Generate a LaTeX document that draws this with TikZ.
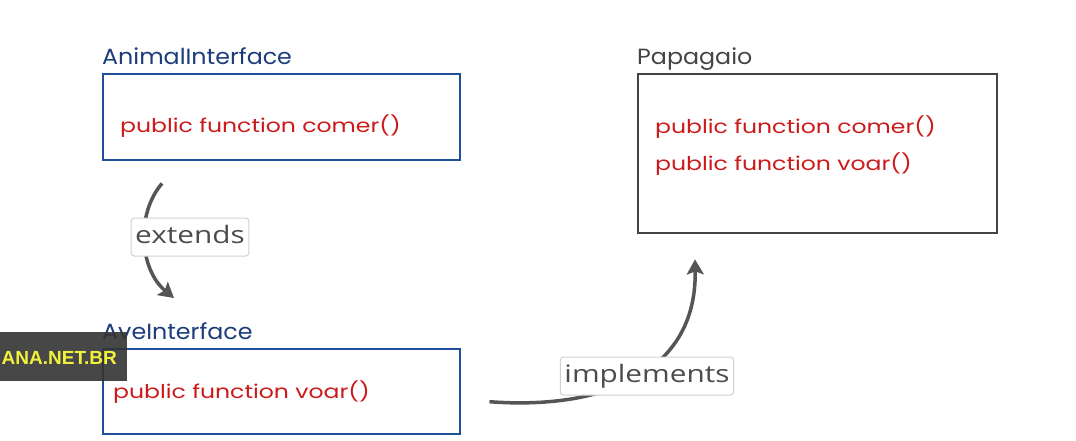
\documentclass[tikz,border=0pt]{standalone}
\usepackage{fontspec}
\newfontfamily\sketchfont[FakeStretch=1.24]{Poppins}
\newfontfamily\headfont[FakeStretch=1.08]{Poppins}
\newfontfamily\tagfont[FakeStretch=1.24]{Open Sans}
\newfontfamily\markfont{Liberation Sans}
\usetikzlibrary{
  arrows.meta,
  positioning,
  calc
}
\definecolor{ifaceblue}{HTML}{1F4E9A}
\definecolor{titleblue}{HTML}{1C3C7C}
\definecolor{methodred}{HTML}{CC1A1A}
\definecolor{boxgray}{HTML}{444444}
\definecolor{arrowgray}{HTML}{555555}
\definecolor{markyellow}{HTML}{F2F23C}

\begin{document}
\begin{tikzpicture}[x=1pt,y=-1pt,
      classbox/.style={
         rectangle,
         line width=2.4pt,
         minimum width=357pt,
         inner sep=0pt
      },
      iface/.style={classbox,draw=ifaceblue},
      concrete/.style={classbox,draw=boxgray},
      title/.style={
         inner sep=0pt,
         font=\headfont\fontsize{22}{26}\selectfont
      },
      method/.style={
         inner sep=0pt,
         text=methodred,
         font=\sketchfont\fontsize{19}{23}\selectfont
      },
      relation/.style={
         rectangle,
         rounded corners=3pt,
         line width=1pt,
         draw=black!18,
         fill=white,
         text=black!70,
         text height=17pt,text depth=4pt,
         inner xsep=4pt,inner ysep=8.5pt,
         font=\tagfont\fontsize{24}{28}\selectfont
      },
      tip/.style={-{Stealth[length=15pt,width=17pt,inset=3pt]},line width=3.5pt,draw=arrowgray}
    ]
  \useasboundingbox (0,0) rectangle (1076,441);
  % class boxes
  \node (animal) [iface, minimum height=86pt, anchor=north west] at (102,73) {};
  \node (ave) [iface, minimum height=85pt, anchor=north west] at (102,348) {};
  \node (papagaio) [concrete, minimum width=359pt, minimum height=159pt, anchor=north west] at (637,73) {};
  % titles
  \node (animaltitle) [title, text=titleblue, above right=8pt and 0pt of animal.north west, anchor=base west] {AnimalInterface};
  \node (avetitle) [title, text=titleblue, above right=9pt and 0pt of ave.north west, anchor=base west] {AveInterface};
  \node (papagaiotitle) [title, text=boxgray, above right=8pt and 0pt of papagaio.north west, anchor=base west] {Papagaio};
  % methods
  \node (animalcomer) [method, below right=59pt and 18pt of animal.north west, anchor=base west] {public function comer()};
  \node (avevoar) [method, below right=50pt and 11pt of ave.north west, anchor=base west] {public function voar()};
  \node (papagaiocomer) [method, below right=61pt and 18pt of papagaio.north west, anchor=base west] {public function comer()};
  \node (papagaiovoar) [method, below=36pt of papagaiocomer.base west, anchor=base west] {public function voar()};
  % relations
  \coordinate (extfrom) at ($(animal.south west)+(60,22)$);
  \coordinate (extto) at ($(ave.north west)+(72,-50)$);
  \draw [tip] (extfrom) .. controls (135,215) and (140,270) .. (extto);
  \node (extends) [relation] at (190,237) {extends};
  \coordinate (implfrom) at ($(ave.east)+(28,10)$);
  \coordinate (implto) at ($(papagaio.south west)+(58,25)$);
  \draw [tip] (implfrom) .. controls (600,410) and (697,375) .. (implto);
  \node (implements) [relation] at (647,376) {implements};
  % overlay
  \begin{scope}
    \clip (0,332) rectangle (127,381);
    \fill [black!80, opacity=.9] (0,332) rectangle (127,381);
    \node (watermark) [anchor=base east, inner sep=0pt, text=markyellow, font=\markfont\bfseries\fontsize{19}{21}\selectfont] at (117,364) {ANA.NET.BR};
  \end{scope}
\end{tikzpicture}
\end{document}
